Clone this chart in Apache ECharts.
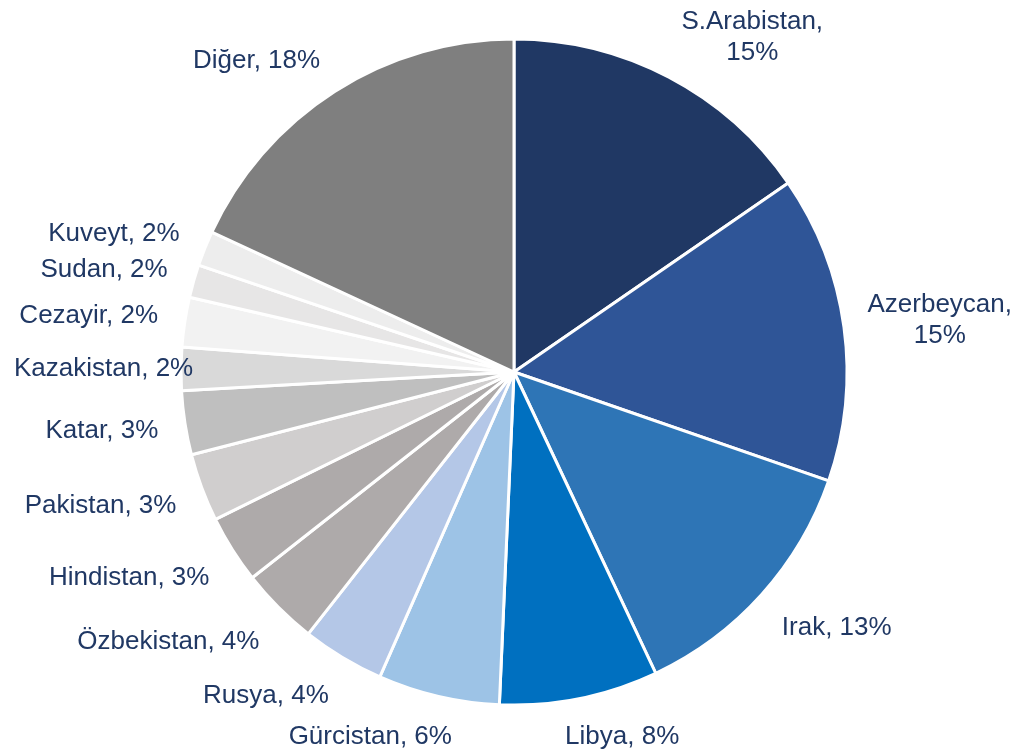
<!DOCTYPE html>
<html>
<head>
<meta charset="utf-8">
<script src="https://cdn.jsdelivr.net/npm/echarts@6/dist/echarts.min.js"></script>
<style>
  html, body { margin: 0; padding: 0; background: #fff; }
  #chart { width: 1015px; height: 753px; }
</style>
</head>
<body>
<div id="chart"></div>
<script>
// ülkeler, saat yönünde tepeden başlayarak
const countries = ['S.Arabistan', 'Azerbeycan', 'Irak', 'Libya', 'Gürcistan', 'Rusya', 'Özbekistan',
  'Hindistan', 'Pakistan', 'Katar', 'Kazakistan', 'Cezayir', 'Sudan', 'Kuveyt', 'Diğer']
const shares = [15.4, 14.9, 12.7, 7.7, 5.9, 4.0, 3.8, 3.3, 3.3, 3.1, 2.1, 2.4, 1.6, 1.7, 18.1]
const shareLabels = ['15%', '15%', '13%', '8%', '6%', '4%', '4%', '3%', '3%', '3%', '2%', '2%', '2%', '2%', '18%']
const colors = ['#203864', '#2F5597', '#2E75B6', '#0070C0', '#9DC3E6', '#B4C7E7', '#AEAAAA',
  '#AEAAAA', '#D0CECE', '#BFBFBF', '#D9D9D9', '#F2F2F2', '#E7E6E6', '#EDEDED', '#7F7F7F']

const W = 1015
const H = 753
const CX = 514
const CY = 372
const R = 333
const GAP = 27

const total = shares.reduce((a, b) => a + b, 0)

const chart = echarts.init(document.getElementById('chart'))

const pieData = countries.map((name, i) => ({
  name: name,
  value: shares[i],
  itemStyle: { color: colors[i] }
}))

const clamp = (v, lo, hi) => Math.max(lo, Math.min(hi, v))

// Excel tarzı etiket yerleşimi: kutunun pastaya yakın köşesi dilimin ortasından geçen ışın üzerinde
function placeLabel (params) {
  const i = params.dataIndex
  let before = 0
  for (let k = 0; k < i; k++) before += shares[k]
  const theta = (before + shares[i] / 2) / total * Math.PI * 2
  const dx = Math.sin(theta)
  const dy = -Math.cos(theta)
  const w = params.labelRect.width
  const h = params.labelRect.height
  const ax = CX + (R + GAP) * dx
  const ay = CY + (R + GAP) * dy
  let x = ax + w / 2 * clamp(dx / 0.3, -1, 1)
  // üst yarıdaki etiketler pastaya biraz daha yakın duruyor
  let y = ay + h / 2 * clamp(dy / 0.6, -1, 1) * (dy < 0 ? 0.5 : 1)
  x = clamp(x, 14 + w / 2, W - 3 - w / 2)
  y = clamp(y, h / 2, H - 1 - h / 2)
  return { x: x, y: y, align: 'center', verticalAlign: 'middle' }
}

chart.setOption({
  animation: false,
  series: [
    {
      type: 'pie',
      center: [CX, CY],
      radius: [0, R],
      startAngle: 90,
      clockwise: true,
      avoidLabelOverlap: false,
      data: pieData,
      itemStyle: {
        borderColor: '#fff',
        borderWidth: 3
      },
      label: {
        show: true,
        position: 'outside',
        color: '#203864',
        fontFamily: 'Liberation Sans, Arial, sans-serif',
        fontSize: 26,
        lineHeight: 31,
        align: 'center',
        formatter: (p) => {
          // ilk iki dilim iki satıra bölünüyor
          const sep = p.dataIndex < 2 ? ',\n' : ', '
          return p.name + sep + shareLabels[p.dataIndex]
        }
      },
      labelLine: {
        show: false
      },
      labelLayout: placeLabel
    }
  ]
})
</script>
</body>
</html>
